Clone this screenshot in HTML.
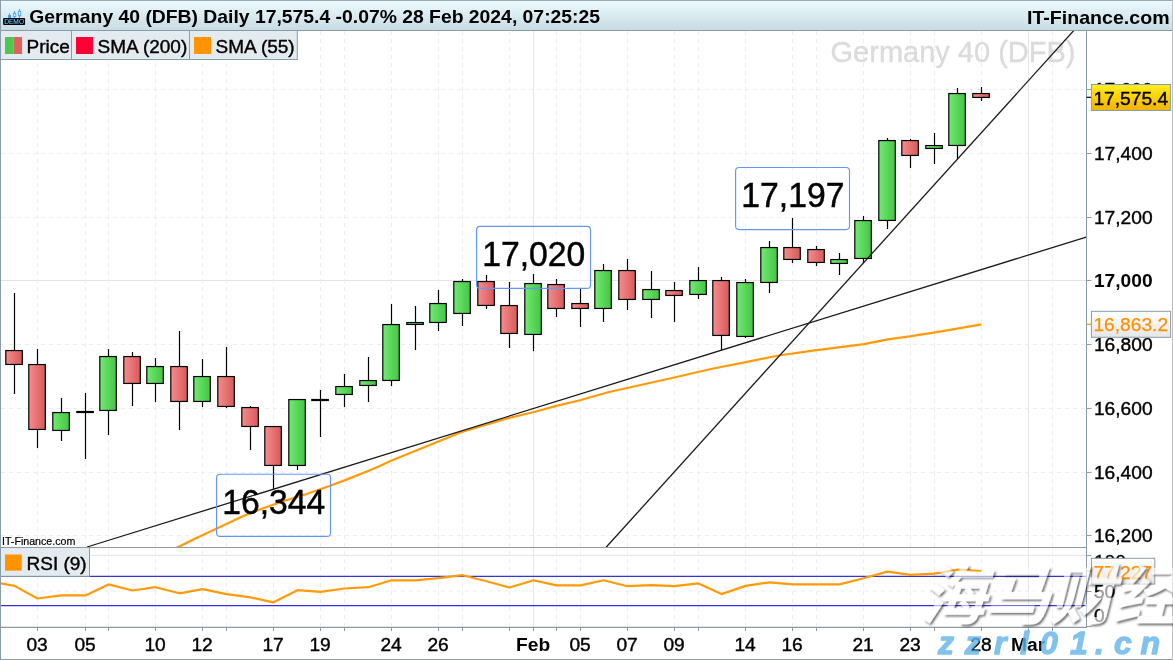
<!DOCTYPE html>
<html><head><meta charset="utf-8"><title>Germany 40 (DFB) Daily</title>
<style>
html,body{margin:0;padding:0;background:#fff;}
body{width:1173px;height:660px;overflow:hidden;font-family:"Liberation Sans","Noto Sans CJK SC",sans-serif;}
svg{display:block;}
text{font-family:"Liberation Sans","Noto Sans CJK SC",sans-serif;}
.cjk{font-family:"Liberation Sans","Noto Sans CJK SC",sans-serif;}
</style></head><body>
<svg width="1173" height="660" viewBox="0 0 1173 660">
<defs>
<linearGradient id="hdr" x1="0" y1="0" x2="0" y2="1"><stop offset="0" stop-color="#ecfcff"/><stop offset="0.5" stop-color="#daebf1"/><stop offset="1" stop-color="#c8dbe3"/></linearGradient>
<linearGradient id="gr" x1="0" y1="0" x2="1" y2="0"><stop offset="0" stop-color="#f68c8c"/><stop offset="1" stop-color="#d65a5a"/></linearGradient>
<linearGradient id="gg" x1="0" y1="0" x2="1" y2="0"><stop offset="0" stop-color="#72ea72"/><stop offset="1" stop-color="#44c444"/></linearGradient>
<linearGradient id="yel" x1="0" y1="0" x2="0" y2="1"><stop offset="0" stop-color="#ffee20"/><stop offset="0.5" stop-color="#fcd008"/><stop offset="1" stop-color="#efb400"/></linearGradient>
<linearGradient id="lab" x1="0" y1="0" x2="0" y2="1"><stop offset="0" stop-color="#ffffff"/><stop offset="1" stop-color="#e4e6e8"/></linearGradient>
<clipPath id="main"><rect x="1" y="31" width="1085.5" height="516.5"/></clipPath>
<clipPath id="rsic"><rect x="1" y="548" width="1085.5" height="79"/></clipPath>
</defs>
<rect x="0" y="0" width="1173" height="660" fill="#ffffff"/>

<g stroke="#ededed" stroke-width="1" fill="none">
<line x1="1" y1="89.5" x2="1086" y2="89.5" stroke-dasharray="4 4"/>
<line x1="1" y1="153.5" x2="1086" y2="153.5" stroke-dasharray="4 4"/>
<line x1="1" y1="217.5" x2="1086" y2="217.5" stroke-dasharray="4 4"/>
<line x1="1" y1="280.5" x2="1086" y2="280.5" stroke="#e3e4e5"/>
<line x1="1" y1="344.5" x2="1086" y2="344.5" stroke-dasharray="4 4"/>
<line x1="1" y1="408.5" x2="1086" y2="408.5" stroke-dasharray="4 4"/>
<line x1="1" y1="472.5" x2="1086" y2="472.5" stroke-dasharray="4 4"/>
<line x1="1" y1="535.5" x2="1086" y2="535.5" stroke-dasharray="4 4"/>
<line x1="37.5" y1="31" x2="37.5" y2="627" stroke-dasharray="4 4"/>
<line x1="85.5" y1="31" x2="85.5" y2="627" stroke-dasharray="4 4"/>
<line x1="108.5" y1="31" x2="108.5" y2="627" stroke-dasharray="4 4"/>
<line x1="155.5" y1="31" x2="155.5" y2="627" stroke-dasharray="4 4"/>
<line x1="202.5" y1="31" x2="202.5" y2="627" stroke-dasharray="4 4"/>
<line x1="226.5" y1="31" x2="226.5" y2="627" stroke-dasharray="4 4"/>
<line x1="273.5" y1="31" x2="273.5" y2="627" stroke-dasharray="4 4"/>
<line x1="320.5" y1="31" x2="320.5" y2="627" stroke-dasharray="4 4"/>
<line x1="344.5" y1="31" x2="344.5" y2="627" stroke-dasharray="4 4"/>
<line x1="391.5" y1="31" x2="391.5" y2="627" stroke-dasharray="4 4"/>
<line x1="438.5" y1="31" x2="438.5" y2="627" stroke-dasharray="4 4"/>
<line x1="462.5" y1="31" x2="462.5" y2="627" stroke-dasharray="4 4"/>
<line x1="509.5" y1="31" x2="509.5" y2="627" stroke-dasharray="4 4"/>
<line x1="533.5" y1="31" x2="533.5" y2="627" stroke="#e3e4e5"/>
<line x1="556.5" y1="31" x2="556.5" y2="627" stroke-dasharray="4 4"/>
<line x1="580.5" y1="31" x2="580.5" y2="627" stroke-dasharray="4 4"/>
<line x1="627.5" y1="31" x2="627.5" y2="627" stroke-dasharray="4 4"/>
<line x1="674.5" y1="31" x2="674.5" y2="627" stroke-dasharray="4 4"/>
<line x1="698.5" y1="31" x2="698.5" y2="627" stroke-dasharray="4 4"/>
<line x1="745.5" y1="31" x2="745.5" y2="627" stroke-dasharray="4 4"/>
<line x1="792.5" y1="31" x2="792.5" y2="627" stroke-dasharray="4 4"/>
<line x1="816.5" y1="31" x2="816.5" y2="627" stroke-dasharray="4 4"/>
<line x1="863.5" y1="31" x2="863.5" y2="627" stroke-dasharray="4 4"/>
<line x1="910.5" y1="31" x2="910.5" y2="627" stroke-dasharray="4 4"/>
<line x1="934.5" y1="31" x2="934.5" y2="627" stroke-dasharray="4 4"/>
<line x1="981.5" y1="31" x2="981.5" y2="627" stroke-dasharray="4 4"/>
<line x1="1028.5" y1="31" x2="1028.5" y2="627" stroke="#e3e4e5"/>
<line x1="1052.5" y1="31" x2="1052.5" y2="627" stroke-dasharray="4 4"/>
<line x1="1" y1="555.3" x2="1086" y2="555.3" stroke="#e3e4e5"/>
<line x1="1" y1="591" x2="1086" y2="591" stroke-dasharray="4 4"/>
</g>
<text x="1075.5" y="62.3" text-anchor="end" font-size="29" fill="#dbdbdb" stroke="#dbdbdb" stroke-width="0.4">Germany 40 (DFB)</text>
<g clip-path="url(#main)">
<rect x="216.6" y="474.2" width="113.9" height="62.2" rx="3.5" ry="3.5" fill="#ffffff" fill-opacity="0.3"/>
<rect x="476.6" y="226.3" width="113.9" height="62.1" rx="3.5" ry="3.5" fill="#ffffff" fill-opacity="0.3"/>
<rect x="735.6" y="167.5" width="113.9" height="62.1" rx="3.5" ry="3.5" fill="#ffffff" fill-opacity="0.3"/>
<polyline fill="none" stroke="#ff9a0a" stroke-width="2.2" stroke-linejoin="round" points="176,548.2 177.2,547.6 196.9,537.7 216.9,528.4 241.6,516.8 263.1,508.2 284.6,500.7 306,494.2 330.2,485.8 349,478.6 366.9,471.5 379.8,466.1 391.6,460.5 461.7,432 510.4,417.6 535,411.8 556.4,405.9 580,400.2 608.2,392.3 676.4,377 711,369 744.6,362.3 778.7,355.5 812.8,350.7 864,344.2 887.8,339.3 909.6,336.4 939.7,331.6 981.5,324.4"/>
<g stroke="#000" stroke-width="1.2">
<line x1="14.5" y1="293" x2="14.5" y2="394"/>
<rect x="5.8" y="350.55" width="16.5" height="13.90" fill="url(#gr)"/>
<line x1="37.5" y1="349" x2="37.5" y2="448"/>
<rect x="28.8" y="364.55" width="16.5" height="64.90" fill="url(#gr)"/>
<line x1="61.5" y1="398" x2="61.5" y2="441"/>
<rect x="52.8" y="412.55" width="16.5" height="17.90" fill="url(#gg)"/>
<line x1="85.5" y1="393" x2="85.5" y2="459"/>
<line x1="76.2" y1="412.0" x2="93.9" y2="412.0" stroke-width="2.2"/>
<line x1="108.5" y1="349" x2="108.5" y2="435"/>
<rect x="99.8" y="356.55" width="16.5" height="53.90" fill="url(#gg)"/>
<line x1="132.5" y1="352" x2="132.5" y2="406"/>
<rect x="123.8" y="356.55" width="16.5" height="26.90" fill="url(#gr)"/>
<line x1="155.5" y1="358" x2="155.5" y2="402"/>
<rect x="146.8" y="366.55" width="16.5" height="16.90" fill="url(#gg)"/>
<line x1="179.5" y1="331" x2="179.5" y2="430"/>
<rect x="170.8" y="366.55" width="16.5" height="34.90" fill="url(#gr)"/>
<line x1="202.5" y1="359" x2="202.5" y2="407"/>
<rect x="193.8" y="376.55" width="16.5" height="24.90" fill="url(#gg)"/>
<line x1="226.5" y1="347" x2="226.5" y2="408"/>
<rect x="217.8" y="376.55" width="16.5" height="29.90" fill="url(#gr)"/>
<line x1="250.5" y1="406" x2="250.5" y2="450"/>
<rect x="241.8" y="407.55" width="16.5" height="18.90" fill="url(#gr)"/>
<line x1="273.5" y1="426" x2="273.5" y2="489"/>
<rect x="264.8" y="426.55" width="16.5" height="38.90" fill="url(#gr)"/>
<line x1="297.5" y1="399" x2="297.5" y2="470"/>
<rect x="288.8" y="399.55" width="16.5" height="65.90" fill="url(#gg)"/>
<line x1="320.5" y1="390" x2="320.5" y2="437"/>
<line x1="311.2" y1="400.0" x2="328.9" y2="400.0" stroke-width="2.2"/>
<line x1="344.5" y1="374" x2="344.5" y2="407"/>
<rect x="335.8" y="386.55" width="16.5" height="7.90" fill="url(#gg)"/>
<line x1="368.5" y1="357" x2="368.5" y2="402"/>
<rect x="359.8" y="380.55" width="16.5" height="4.90" fill="url(#gg)"/>
<line x1="391.5" y1="304" x2="391.5" y2="386"/>
<rect x="382.8" y="324.55" width="16.5" height="55.90" fill="url(#gg)"/>
<line x1="415.5" y1="306" x2="415.5" y2="350"/>
<rect x="406.8" y="322.55" width="16.5" height="1.90" fill="url(#gg)"/>
<line x1="438.5" y1="290" x2="438.5" y2="331"/>
<rect x="429.8" y="303.55" width="16.5" height="18.90" fill="url(#gg)"/>
<line x1="462.5" y1="279" x2="462.5" y2="326"/>
<rect x="453.8" y="281.55" width="16.5" height="31.90" fill="url(#gg)"/>
<line x1="486.5" y1="275" x2="486.5" y2="309"/>
<rect x="477.8" y="281.55" width="16.5" height="23.90" fill="url(#gr)"/>
<line x1="509.5" y1="282" x2="509.5" y2="348"/>
<rect x="500.8" y="305.55" width="16.5" height="27.90" fill="url(#gr)"/>
<line x1="533.5" y1="274" x2="533.5" y2="351"/>
<rect x="524.8" y="283.55" width="16.5" height="50.90" fill="url(#gg)"/>
<line x1="556.5" y1="279" x2="556.5" y2="317"/>
<rect x="547.8" y="284.55" width="16.5" height="23.90" fill="url(#gr)"/>
<line x1="580.5" y1="289" x2="580.5" y2="327"/>
<rect x="571.8" y="303.55" width="16.5" height="4.90" fill="url(#gr)"/>
<line x1="603.5" y1="264" x2="603.5" y2="322"/>
<rect x="594.8" y="270.55" width="16.5" height="37.90" fill="url(#gg)"/>
<line x1="627.5" y1="259" x2="627.5" y2="310"/>
<rect x="618.8" y="270.55" width="16.5" height="28.90" fill="url(#gr)"/>
<line x1="651.5" y1="271" x2="651.5" y2="318"/>
<rect x="642.8" y="289.55" width="16.5" height="9.90" fill="url(#gg)"/>
<line x1="674.5" y1="282" x2="674.5" y2="322"/>
<rect x="665.8" y="290.55" width="16.5" height="4.90" fill="url(#gr)"/>
<line x1="698.5" y1="267" x2="698.5" y2="299"/>
<rect x="689.8" y="280.55" width="16.5" height="13.90" fill="url(#gg)"/>
<line x1="721.5" y1="277" x2="721.5" y2="350"/>
<rect x="712.8" y="280.55" width="16.5" height="54.90" fill="url(#gr)"/>
<line x1="745.5" y1="279" x2="745.5" y2="338"/>
<rect x="736.8" y="282.55" width="16.5" height="53.90" fill="url(#gg)"/>
<line x1="769.5" y1="241" x2="769.5" y2="293"/>
<rect x="760.8" y="247.55" width="16.5" height="34.90" fill="url(#gg)"/>
<line x1="792.5" y1="218" x2="792.5" y2="263"/>
<rect x="783.8" y="247.55" width="16.5" height="11.90" fill="url(#gr)"/>
<line x1="816.5" y1="246" x2="816.5" y2="266"/>
<rect x="807.8" y="249.55" width="16.5" height="12.90" fill="url(#gr)"/>
<line x1="839.5" y1="253" x2="839.5" y2="275"/>
<rect x="830.8" y="259.55" width="16.5" height="3.90" fill="url(#gg)"/>
<line x1="863.5" y1="216" x2="863.5" y2="263"/>
<rect x="854.8" y="220.55" width="16.5" height="37.90" fill="url(#gg)"/>
<line x1="887.5" y1="138" x2="887.5" y2="229"/>
<rect x="878.8" y="140.55" width="16.5" height="79.90" fill="url(#gg)"/>
<line x1="910.5" y1="139" x2="910.5" y2="168"/>
<rect x="901.8" y="140.55" width="16.5" height="14.90" fill="url(#gr)"/>
<line x1="934.5" y1="133" x2="934.5" y2="164"/>
<rect x="925.8" y="145.55" width="16.5" height="2.90" fill="url(#gg)"/>
<line x1="957.5" y1="88" x2="957.5" y2="159"/>
<rect x="948.8" y="93.55" width="16.5" height="51.90" fill="url(#gg)"/>
<line x1="981.5" y1="87" x2="981.5" y2="101"/>
<rect x="972.8" y="93.55" width="16.5" height="3.90" fill="url(#gr)"/>
</g>
<line x1="87" y1="547" x2="1086.2" y2="237.1" stroke="#1a1a1a" stroke-width="1.3"/>
<line x1="606.1" y1="547.3" x2="1073.8" y2="30.5" stroke="#1a1a1a" stroke-width="1.3"/>
<rect x="216.6" y="474.2" width="113.9" height="62.2" rx="3.5" ry="3.5" fill="none" stroke="#6496f2" stroke-width="1.15"/>
<text transform="translate(273.8,514.0) scale(1,1.06)" text-anchor="middle" font-size="33.7" fill="#000" stroke="#000" stroke-width="0.45">16,344</text>
<rect x="476.6" y="226.3" width="113.9" height="62.1" rx="3.5" ry="3.5" fill="none" stroke="#6496f2" stroke-width="1.15"/>
<text transform="translate(533.8,266.0) scale(1,1.06)" text-anchor="middle" font-size="33.7" fill="#000" stroke="#000" stroke-width="0.45">17,020</text>
<rect x="735.6" y="167.5" width="113.9" height="62.1" rx="3.5" ry="3.5" fill="none" stroke="#6496f2" stroke-width="1.15"/>
<text transform="translate(792.9,207.3) scale(1,1.06)" text-anchor="middle" font-size="33.7" fill="#000" stroke="#000" stroke-width="0.45">17,197</text>
</g>
<text x="2" y="545.2" font-size="10.65" fill="#000" stroke="#000" stroke-width="0.2">IT-Finance.com</text>
<g clip-path="url(#rsic)">
<line x1="1" y1="576.3" x2="1086" y2="576.3" stroke="#3333d6" stroke-width="1.2"/>
<line x1="1" y1="605.6" x2="1086" y2="605.6" stroke="#3333d6" stroke-width="1.2"/>
<polyline fill="none" stroke="#ff9a0a" stroke-width="2.2" stroke-linejoin="round" points="1.0,583.4 14.5,585.9 37.5,598.5 61.5,595.4 85.5,595.4 108.5,584.4 132.5,590.5 155.5,587.2 179.5,593.3 202.5,589.2 226.5,594.1 250.5,597.4 273.5,602.3 297.5,590.2 320.5,591.8 344.5,588.5 368.5,587.2 391.5,580.3 415.5,580.3 438.5,578.2 462.5,575.2 486.5,581.3 509.5,587.5 533.5,580.3 556.5,585.4 580.5,585.4 603.5,580.3 627.5,586.2 651.5,585.2 674.5,586.2 698.5,583.4 721.5,594.1 745.5,585.9 769.5,582.3 792.5,584.4 816.5,584.4 839.5,584.4 863.5,578.2 887.5,571.6 910.5,574.9 934.5,573.6 957.5,569.6 981.5,571.1"/>
</g>
<g stroke="#8a9ca8" stroke-width="1" fill="none">
<line x1="0" y1="547.5" x2="1086.5" y2="547.5"/>
<line x1="0" y1="627.4" x2="1086.5" y2="627.4" stroke-width="1.3"/>
<line x1="1086.5" y1="31" x2="1086.5" y2="628"/>
<line x1="1086.5" y1="89.5" x2="1091.5" y2="89.5"/>
<line x1="1086.5" y1="153.5" x2="1091.5" y2="153.5"/>
<line x1="1086.5" y1="217.5" x2="1091.5" y2="217.5"/>
<line x1="1086.5" y1="280.5" x2="1091.5" y2="280.5"/>
<line x1="1086.5" y1="344.5" x2="1091.5" y2="344.5"/>
<line x1="1086.5" y1="408.5" x2="1091.5" y2="408.5"/>
<line x1="1086.5" y1="472.5" x2="1091.5" y2="472.5"/>
<line x1="1086.5" y1="535.5" x2="1091.5" y2="535.5"/>
<line x1="1086.5" y1="555.6" x2="1091.5" y2="555.6"/>
<line x1="1086.5" y1="591.5" x2="1091.5" y2="591.5"/>
<line x1="1086.5" y1="626.5" x2="1091.5" y2="626.5"/>
<line x1="37.5" y1="627" x2="37.5" y2="631"/>
<line x1="85.5" y1="627" x2="85.5" y2="631"/>
<line x1="108.5" y1="627" x2="108.5" y2="631"/>
<line x1="155.5" y1="627" x2="155.5" y2="631"/>
<line x1="202.5" y1="627" x2="202.5" y2="631"/>
<line x1="226.5" y1="627" x2="226.5" y2="631"/>
<line x1="273.5" y1="627" x2="273.5" y2="631"/>
<line x1="320.5" y1="627" x2="320.5" y2="631"/>
<line x1="344.5" y1="627" x2="344.5" y2="631"/>
<line x1="391.5" y1="627" x2="391.5" y2="631"/>
<line x1="438.5" y1="627" x2="438.5" y2="631"/>
<line x1="462.5" y1="627" x2="462.5" y2="631"/>
<line x1="509.5" y1="627" x2="509.5" y2="631"/>
<line x1="533.5" y1="627" x2="533.5" y2="631"/>
<line x1="556.5" y1="627" x2="556.5" y2="631"/>
<line x1="580.5" y1="627" x2="580.5" y2="631"/>
<line x1="627.5" y1="627" x2="627.5" y2="631"/>
<line x1="674.5" y1="627" x2="674.5" y2="631"/>
<line x1="698.5" y1="627" x2="698.5" y2="631"/>
<line x1="745.5" y1="627" x2="745.5" y2="631"/>
<line x1="792.5" y1="627" x2="792.5" y2="631"/>
<line x1="816.5" y1="627" x2="816.5" y2="631"/>
<line x1="863.5" y1="627" x2="863.5" y2="631"/>
<line x1="910.5" y1="627" x2="910.5" y2="631"/>
<line x1="934.5" y1="627" x2="934.5" y2="631"/>
<line x1="981.5" y1="627" x2="981.5" y2="631"/>
<line x1="1028.5" y1="627" x2="1028.5" y2="631"/>
<line x1="1052.5" y1="627" x2="1052.5" y2="631"/>
</g>
<rect x="0.5" y="547.5" width="89" height="28.8" fill="#e3ebf1" stroke="#8a9ca8" stroke-width="1"/>
<rect x="5" y="554.5" width="16.8" height="16.2" fill="#ff9400"/>
<text x="26.5" y="569.8" font-size="19" fill="#000" stroke="#000" stroke-width="0.4">RSI (9)</text>
<text x="1093.9" y="95.9" font-size="19.2" stroke="#000" stroke-width="0.4" fill="#000">17,600</text>
<text x="1093.9" y="159.9" font-size="19.2" stroke="#000" stroke-width="0.4" fill="#000">17,400</text>
<text x="1093.9" y="223.9" font-size="19.2" stroke="#000" stroke-width="0.4" fill="#000">17,200</text>
<text x="1093.9" y="286.9" font-size="19.2" font-weight="bold" fill="#000">17,000</text>
<text x="1093.9" y="350.9" font-size="19.2" stroke="#000" stroke-width="0.4" fill="#000">16,800</text>
<text x="1093.9" y="414.9" font-size="19.2" stroke="#000" stroke-width="0.4" fill="#000">16,600</text>
<text x="1093.9" y="478.9" font-size="19.2" stroke="#000" stroke-width="0.4" fill="#000">16,400</text>
<text x="1093.9" y="541.9" font-size="19.2" stroke="#000" stroke-width="0.4" fill="#000">16,200</text>
<text x="1093.9" y="568.2" font-size="19.2" fill="#000" stroke="#000" stroke-width="0.4">100</text>
<text x="1093.9" y="598" font-size="19.2" fill="#000" stroke="#000" stroke-width="0.4">50</text>
<text x="1093.9" y="622.3" font-size="19.2" fill="#000" stroke="#000" stroke-width="0.4">0</text>
<line x1="1086.5" y1="97.3" x2="1091.5" y2="97.3" stroke="#000" stroke-width="1.2"/>
<rect x="1091.4" y="84.5" width="79.2" height="26" fill="url(#yel)" stroke="#8a9ca8" stroke-width="1"/>
<text x="1093.4" y="104.6" font-size="19.2" fill="#000" stroke="#000" stroke-width="0.4">17,575.4</text>
<line x1="1086.5" y1="324.3" x2="1091.5" y2="324.3" stroke="#ff9400" stroke-width="1.2"/>
<rect x="1091.4" y="311.3" width="79.2" height="26" fill="url(#lab)" stroke="#8a9ca8" stroke-width="1"/>
<text x="1093.4" y="331.3" font-size="19.2" fill="#ff9000" stroke="#ff9000" stroke-width="0.25">16,863.2</text>
<line x1="1086.5" y1="571.1" x2="1091.5" y2="571.1" stroke="#ff9400" stroke-width="1.2"/>
<rect x="1091.4" y="558.3" width="63.4" height="25.8" fill="url(#lab)" stroke="#8a9ca8" stroke-width="1"/>
<text x="1093.4" y="578.5" font-size="19.2" fill="#ff9000" stroke="#ff9000" stroke-width="0.25">77.227</text>
<text x="37.1" y="651" text-anchor="middle" font-size="19.2" stroke="#000" stroke-width="0.4" fill="#000">03</text>
<text x="85.1" y="651" text-anchor="middle" font-size="19.2" stroke="#000" stroke-width="0.4" fill="#000">05</text>
<text x="155.1" y="651" text-anchor="middle" font-size="19.2" stroke="#000" stroke-width="0.4" fill="#000">10</text>
<text x="202.1" y="651" text-anchor="middle" font-size="19.2" stroke="#000" stroke-width="0.4" fill="#000">12</text>
<text x="273.1" y="651" text-anchor="middle" font-size="19.2" stroke="#000" stroke-width="0.4" fill="#000">17</text>
<text x="320.1" y="651" text-anchor="middle" font-size="19.2" stroke="#000" stroke-width="0.4" fill="#000">19</text>
<text x="391.1" y="651" text-anchor="middle" font-size="19.2" stroke="#000" stroke-width="0.4" fill="#000">24</text>
<text x="438.1" y="651" text-anchor="middle" font-size="19.2" stroke="#000" stroke-width="0.4" fill="#000">26</text>
<text x="533.1" y="651" text-anchor="middle" font-size="19.2" font-weight="bold" fill="#000">Feb</text>
<text x="580.1" y="651" text-anchor="middle" font-size="19.2" stroke="#000" stroke-width="0.4" fill="#000">05</text>
<text x="627.1" y="651" text-anchor="middle" font-size="19.2" stroke="#000" stroke-width="0.4" fill="#000">07</text>
<text x="674.1" y="651" text-anchor="middle" font-size="19.2" stroke="#000" stroke-width="0.4" fill="#000">09</text>
<text x="745.1" y="651" text-anchor="middle" font-size="19.2" stroke="#000" stroke-width="0.4" fill="#000">14</text>
<text x="792.1" y="651" text-anchor="middle" font-size="19.2" stroke="#000" stroke-width="0.4" fill="#000">16</text>
<text x="863.1" y="651" text-anchor="middle" font-size="19.2" stroke="#000" stroke-width="0.4" fill="#000">21</text>
<text x="910.1" y="651" text-anchor="middle" font-size="19.2" stroke="#000" stroke-width="0.4" fill="#000">23</text>
<text x="981.1" y="651" text-anchor="middle" font-size="19.2" stroke="#000" stroke-width="0.4" fill="#000">28</text>
<text x="1028.1" y="651" text-anchor="middle" font-size="19.2" font-weight="bold" fill="#000">Mar</text>
<rect x="0" y="0" width="1173" height="30.5" fill="url(#hdr)"/>
<rect x="0" y="30.5" width="297.3" height="29" fill="#e3ebf1"/>
<g stroke="#8a9ca8" stroke-width="1" fill="none">
<line x1="0" y1="30.5" x2="1173" y2="30.5"/>
<line x1="0" y1="59.5" x2="297.8" y2="59.5"/>
<line x1="71.5" y1="30.5" x2="71.5" y2="59.5"/>
<line x1="189.5" y1="30.5" x2="189.5" y2="59.5"/>
<line x1="297.3" y1="30.5" x2="297.3" y2="59.5"/>
</g>
<rect x="5" y="37" width="8.6" height="17" fill="#4cc84c"/><rect x="13.6" y="37" width="8.5" height="17" fill="#dc6262"/>
<text x="26.5" y="52.6" font-size="19" fill="#000" stroke="#000" stroke-width="0.4">Price</text>
<rect x="76" y="37" width="17" height="17" fill="#ff0033"/>
<text x="97.5" y="52.6" font-size="19" fill="#000" stroke="#000" stroke-width="0.4">SMA (200)</text>
<rect x="194" y="37" width="17" height="17" fill="#ff9400"/>
<text x="215.5" y="52.6" font-size="19" fill="#000" stroke="#000" stroke-width="0.4">SMA (55)</text>
<text transform="translate(29.3,23.3) scale(1,0.96)" font-size="19.35" font-weight="bold" fill="#000">Germany 40 (DFB) Daily 17,575.4 -0.07% 28 Feb 2024, 07:25:25</text>
<text transform="translate(1169.6,23.7) scale(1,0.95)" text-anchor="end" font-size="19.6" font-weight="bold" fill="#000">IT-Finance.com</text>
<g fill="#3a9ee8" stroke="none">
<rect x="9.1" y="13.2" width="0.9" height="2"/><rect x="8.1" y="15" width="2.9" height="3.2"/>
<rect x="14.1" y="11" width="0.9" height="7.2"/><rect x="19.1" y="9" width="0.9" height="9.2"/>
</g>
<rect x="13.3" y="13.3" width="2.5" height="3.2" fill="#dff0f8" stroke="#3a9ee8" stroke-width="0.8"/>
<rect x="18.3" y="11.2" width="2.5" height="4.6" fill="#dff0f8" stroke="#3a9ee8" stroke-width="0.8"/>
<rect x="3.1" y="18.1" width="22" height="6.8" rx="1" fill="#000"/>
<text x="14.1" y="24.05" text-anchor="middle" font-size="7" fill="#74c4fa" stroke="#74c4fa" stroke-width="0.1" textLength="19.9" lengthAdjust="spacingAndGlyphs">DEMO</text>
<g stroke="#8a9ca8" stroke-width="1" fill="none"><line x1="0" y1="0.5" x2="1173" y2="0.5" stroke="#9aaab4"/><line x1="0.5" y1="0" x2="0.5" y2="660"/><line x1="0" y1="659.5" x2="1173" y2="659.5"/><line x1="1172.5" y1="0" x2="1172.5" y2="660" stroke="#b5c2ca"/></g>
<filter id="ds" x="-10%" y="-20%" width="130%" height="150%"><feGaussianBlur in="SourceAlpha" stdDeviation="1.0"/><feOffset dx="2.2" dy="2.2" result="sh"/><feComposite in="sh" in2="SourceAlpha" operator="out" result="sh2"/><feComponentTransfer in="sh2"><feFuncA type="linear" slope="0.55"/></feComponentTransfer></filter>
<text class="cjk" transform="translate(920,618.5) skewX(-14) scale(1.1,1.06)" x="0" y="0" font-size="60" font-weight="700" letter-spacing="-1.5" font-family="Liberation Sans, Noto Sans CJK SC, sans-serif" fill="#000000" filter="url(#ds)">海马财经</text>
<text class="cjk" transform="translate(920,618.5) skewX(-14) scale(1.1,1.06)" x="0" y="0" font-size="60" font-weight="700" letter-spacing="-1.5" font-family="Liberation Sans, Noto Sans CJK SC, sans-serif" fill="#ffffff" fill-opacity="0.62">海马财经</text>
<text x="938 964.7 994 1020 1040 1070 1095 1114 1140.5" y="653.8" font-size="32" font-weight="bold" font-style="italic" fill="#62b4ea" stroke="#62b4ea" stroke-width="1.3" stroke-linejoin="round" opacity="0.8">zzrl01.cn</text>
</svg></body></html>
